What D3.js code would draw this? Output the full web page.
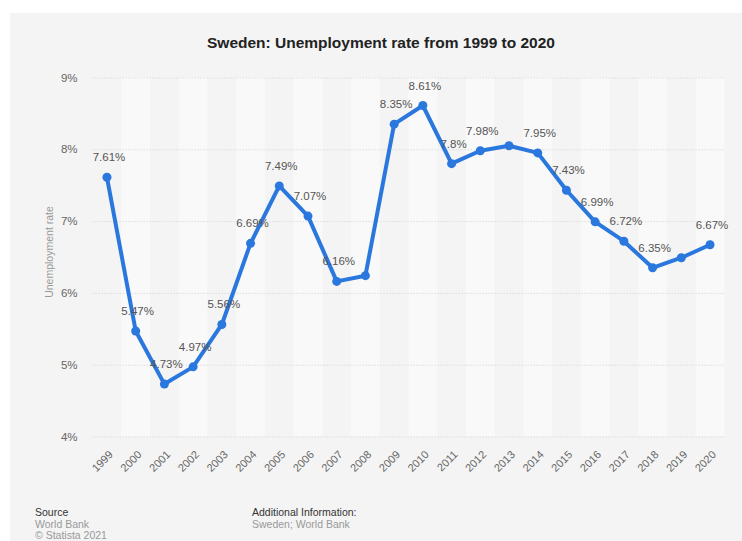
<!DOCTYPE html>
<html>
<head>
<meta charset="utf-8">
<script src="https://cdn.jsdelivr.net/npm/d3@7/dist/d3.min.js"></script>
<style>
  html, body { margin: 0; padding: 0; background: #ffffff; }
  svg { display: block; font-family: "Liberation Sans", Arial, Helvetica, sans-serif; }
</style>
</head>
<body>
<svg id="chart" width="742" height="541"></svg>
<script>
// Sweden unemployment rate, percent of labour force
const years = ["1999","2000","2001","2002","2003","2004","2005","2006","2007","2008","2009",
               "2010","2011","2012","2013","2014","2015","2016","2017","2018","2019","2020"];
const rates = [7.61, 5.47, 4.73, 4.97, 5.56, 6.69, 7.49, 7.07, 6.16, 6.24, 8.35,
               8.61, 7.8, 7.98, 8.05, 7.95, 7.43, 6.99, 6.72, 6.35, 6.49, 6.67];
// value labels that are shown (crowded ones are left out)
const showLabel = [true, true, true, true, true, true, true, true, true, false, true,
                   true, true, true, false, true, true, true, true, true, false, true];
const yTicks = [4, 5, 6, 7, 8, 9];

const svg = d3.select("#chart");
const W = 742, H = 541;

// card background
svg.append("rect").attr("x", 10).attr("y", 13).attr("width", W - 10).attr("height", H - 13)
  .attr("fill", "#f4f4f4");

const plot = { left: 92.6, right: 724.4, top: 77.5, bottom: 436.5 };

const x = d3.scaleBand().domain(years).range([plot.left, plot.right]).padding(0);
const y = d3.scaleLinear().domain([4, 9]).range([plot.bottom, plot.top]);
const cx = d => x(d) + x.bandwidth() / 2;

// alternating column bands
svg.append("g").selectAll("rect")
  .data(years.filter((d, i) => i % 2 === 1))
  .join("rect")
  .attr("x", d => x(d)).attr("y", plot.top)
  .attr("width", x.bandwidth()).attr("height", plot.bottom - plot.top)
  .attr("fill", "#f9f9f9");

// horizontal grid + y labels
const yAxis = d3.axisLeft(y).tickValues(yTicks).tickFormat(d => d + "%")
  .tickSize(-(plot.right - plot.left)).tickPadding(15);
const gy = svg.append("g").attr("transform", `translate(${plot.left},0)`).call(yAxis);
gy.select(".domain").remove();
gy.selectAll(".tick line").attr("stroke", "#cfcfcf").attr("stroke-dasharray", "1,2");
gy.selectAll(".tick text").attr("fill", "#666").attr("font-size", 11.5)
  .attr("font-family", "Liberation Sans, Arial, sans-serif");

// x labels, rotated
const xAxis = d3.axisBottom(x).tickSize(0).tickPadding(0);
const gx = svg.append("g").attr("transform", `translate(0,${plot.bottom})`).call(xAxis);
gx.select(".domain").remove();
gx.selectAll(".tick text")
  .attr("fill", "#666").attr("font-size", 11)
  .attr("font-family", "Liberation Sans, Arial, sans-serif")
  .attr("text-anchor", "end")
  .attr("transform", "translate(4,16) rotate(-45)")
  .attr("dy", "0.35em");

// y axis title
svg.append("text")
  .attr("transform", `translate(53,${(plot.top + plot.bottom) / 2 - 5}) rotate(-90)`)
  .attr("text-anchor", "middle")
  .attr("fill", "#999").attr("font-size", 10.5)
  .text("Unemployment rate");

// line
const line = d3.line().x((d, i) => cx(years[i])).y(d => y(d));
svg.append("path").datum(rates)
  .attr("d", line)
  .attr("fill", "none").attr("stroke", "#2a77de")
  .attr("stroke-width", 4).attr("stroke-linejoin", "round").attr("stroke-linecap", "round");

svg.append("g").selectAll("circle")
  .data(rates).join("circle")
  .attr("cx", (d, i) => cx(years[i])).attr("cy", d => y(d))
  .attr("r", 4.5).attr("fill", "#2a77de");

// value labels
svg.append("g").selectAll("text")
  .data(rates.map((v, i) => ({ v, i })).filter(d => showLabel[d.i]))
  .join("text")
  .attr("x", d => cx(years[d.i]) + 2)
  .attr("y", d => y(d.v) - 16)
  .attr("text-anchor", "middle")
  .attr("fill", "#555").attr("font-size", 11.5)
  .text(d => d.v + "%");

// title
svg.append("text")
  .attr("x", 381).attr("y", 48)
  .attr("text-anchor", "middle")
  .attr("fill", "#222").attr("font-size", 15.5).attr("font-weight", "bold")
  .text("Sweden: Unemployment rate from 1999 to 2020");

// footer
const foot = svg.append("g").attr("font-size", 10.5);
foot.append("text").attr("x", 35).attr("y", 516).attr("fill", "#333").text("Source");
foot.append("text").attr("x", 35).attr("y", 528).attr("fill", "#999").text("World Bank");
foot.append("text").attr("x", 35).attr("y", 539).attr("fill", "#999").text("© Statista 2021");
foot.append("text").attr("x", 252).attr("y", 516).attr("fill", "#333").text("Additional Information:");
foot.append("text").attr("x", 252).attr("y", 528).attr("fill", "#999").text("Sweden; World Bank");
</script>
</body>
</html>
